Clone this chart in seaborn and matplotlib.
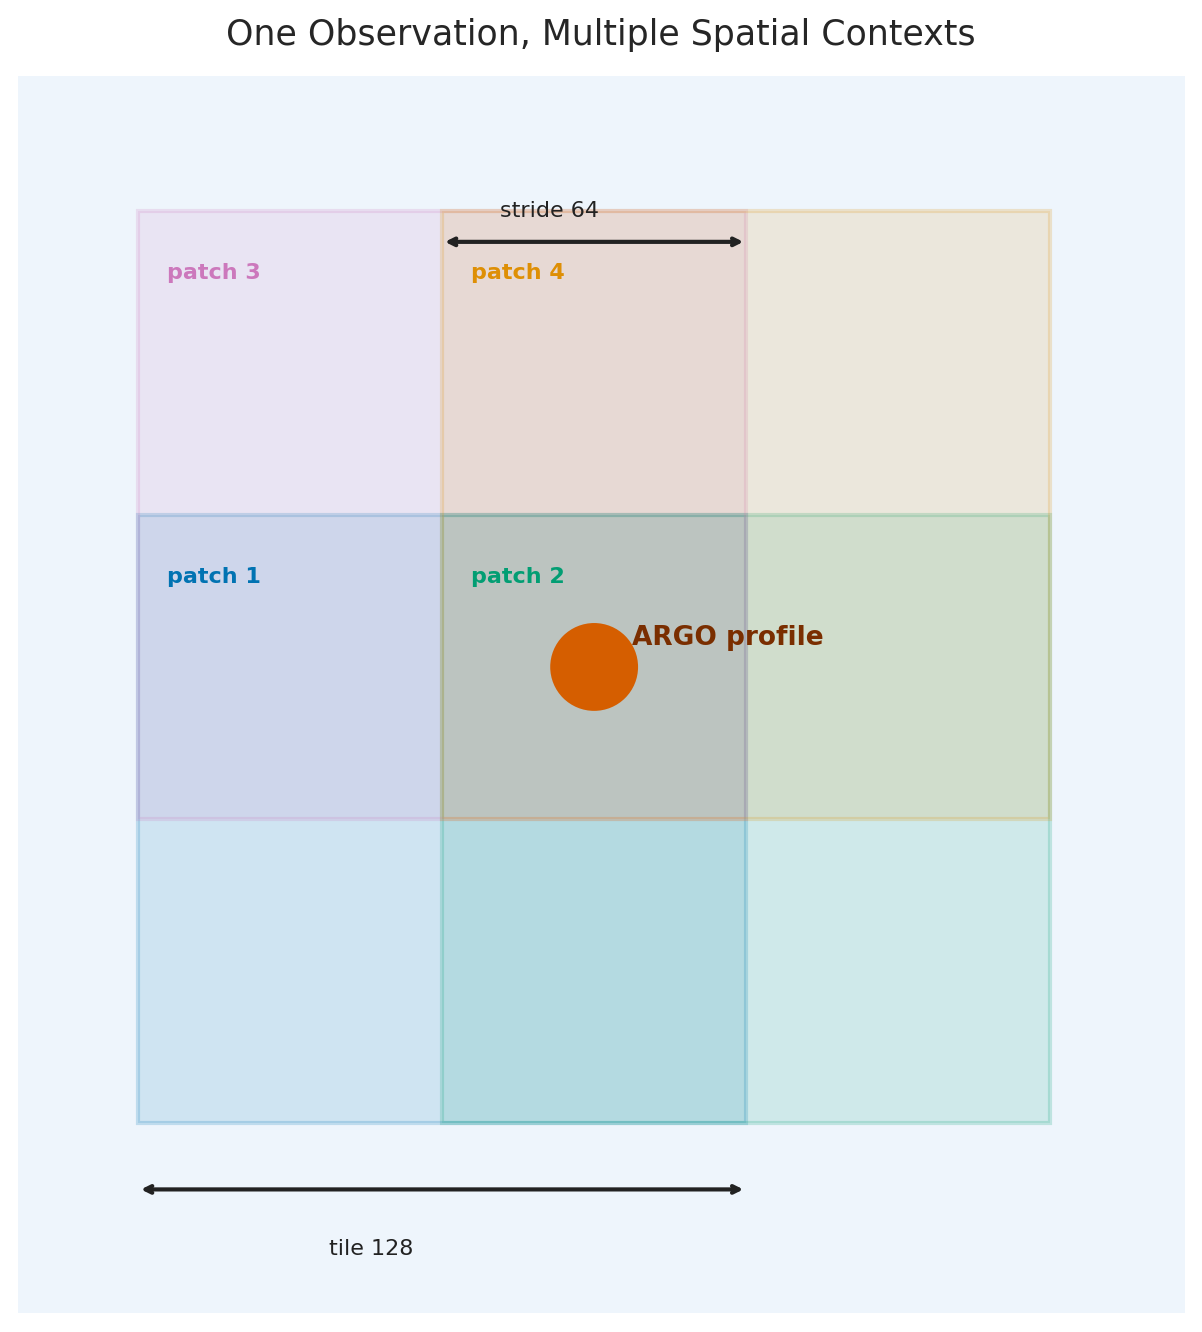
import matplotlib
matplotlib.use("Agg")
import matplotlib.pyplot as plt
import seaborn as sns
from matplotlib.patches import Rectangle

sns.set_theme(style="white")
pal = sns.color_palette("colorblind")

patch_names = ["patch 1", "patch 2", "patch 3", "patch 4"]
patch_x = [0, 64, 0, 64]
patch_y = [0, 0, 64, 64]
patch_colors = [pal[0], pal[2], pal[4], pal[1]]
tile = 128
stride = 64
argo_x = [96]
argo_y = [96]

fig = plt.figure(figsize=(12.02, 13.32), dpi=100)
ax = fig.add_axes([18/1202, 1-1313/1332, 1167/1202, 1237/1332])
ax.set_facecolor("#eef5fc")
for n, x, y, c in zip(patch_names, patch_x, patch_y, patch_colors):
    ax.add_patch(Rectangle((x, y), tile, tile, facecolor=c, alpha=0.13, edgecolor="none"))
    ax.add_patch(Rectangle((x, y), tile, tile, facecolor="none", edgecolor=c, alpha=0.2, lw=3))
    ax.text(x + 6, y + tile - 13, n, color=c, fontsize=16, fontweight="bold", va="center")

sns.scatterplot(x=argo_x, y=argo_y, s=4000, color=pal[3], edgecolor="none", ax=ax, legend=False)
ax.text(argo_x[0] + 8, argo_y[0] + 6, "ARGO profile", color="#7a2e00", fontsize=19, fontweight="bold", va="center")

ax.annotate("", xy=(stride, 185.5), xytext=(tile, 185.5),
            arrowprops=dict(arrowstyle="<->", lw=3, color="#222222"))
ax.text(86.5, 192, "stride 64", ha="center", va="center", fontsize=16, color="#222222")
ax.annotate("", xy=(0, -14), xytext=(tile, -14),
            arrowprops=dict(arrowstyle="<->", lw=3, color="#222222"))
ax.text(49, -26.5, "tile 128", ha="center", va="center", fontsize=16, color="#222222")

ax.set_xlim(-25.3, 220.4)
ax.set_ylim(-40, 220.4)
ax.set_aspect("equal", adjustable="box")
ax.set_xticks([]); ax.set_yticks([])
for s in ax.spines.values():
    s.set_visible(False)
fig.text(0.5, 1-35/1332, "One Observation, Multiple Spatial Contexts", ha="center", va="center", fontsize=25)
fig.savefig("out.png", dpi=100)
